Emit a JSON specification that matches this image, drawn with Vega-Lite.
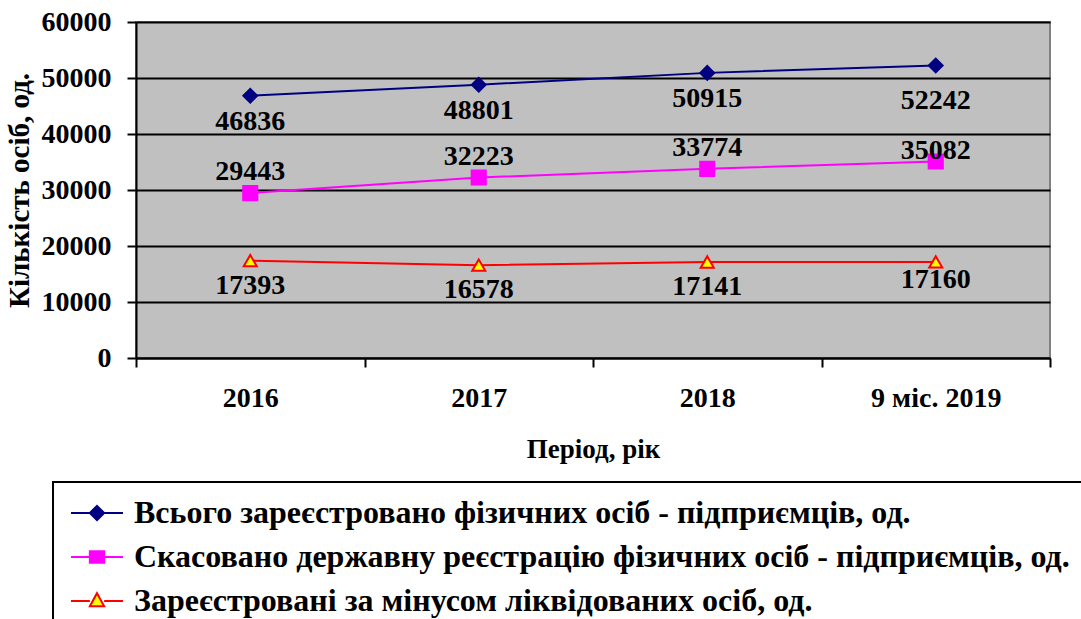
{
  "$schema": "https://vega.github.io/schema/vega-lite/v6.json",
  "width": 914,
  "height": 336,
  "autosize": {"type": "none"},
  "padding": {"left": 136, "top": 22, "right": 31, "bottom": 261},
  "background": "white",
  "config": {
    "view": {"fill": "#C0C0C0", "stroke": "#808080", "strokeWidth": 2},
    "font": "Liberation Serif"
  },
  "data": {
    "values": [
      {"period": "2016", "series": "Всього зареєстровано фізичних осіб - підприємців, од.", "value": 46836},
      {"period": "2017", "series": "Всього зареєстровано фізичних осіб - підприємців, од.", "value": 48801},
      {"period": "2018", "series": "Всього зареєстровано фізичних осіб - підприємців, од.", "value": 50915},
      {"period": "9 міс. 2019", "series": "Всього зареєстровано фізичних осіб - підприємців, од.", "value": 52242},
      {"period": "2016", "series": "Скасовано державну реєстрацію фізичних  осіб - підприємців, од.", "value": 29443},
      {"period": "2017", "series": "Скасовано державну реєстрацію фізичних  осіб - підприємців, од.", "value": 32223},
      {"period": "2018", "series": "Скасовано державну реєстрацію фізичних  осіб - підприємців, од.", "value": 33774},
      {"period": "9 міс. 2019", "series": "Скасовано державну реєстрацію фізичних  осіб - підприємців, од.", "value": 35082},
      {"period": "2016", "series": "Зареєстровані за мінусом ліквідованих осіб, од.", "value": 17393},
      {"period": "2017", "series": "Зареєстровані за мінусом ліквідованих осіб, од.", "value": 16578},
      {"period": "2018", "series": "Зареєстровані за мінусом ліквідованих осіб, од.", "value": 17141},
      {"period": "9 міс. 2019", "series": "Зареєстровані за мінусом ліквідованих осіб, од.", "value": 17160}
    ]
  },
  "encoding": {
    "x": {
      "field": "period",
      "type": "nominal",
      "sort": ["2016", "2017", "2018", "9 міс. 2019"],
      "bandPosition": 0.5,
      "scale": {"type": "band", "paddingInner": 0, "paddingOuter": 0},
      "axis": {
        "title": "Період, рік",
        "labelAngle": 0,
        "tickBand": "extent",
        "grid": false,
        "domainColor": "black",
        "domainWidth": 2,
        "tickColor": "black",
        "tickWidth": 2,
        "tickSize": 9,
        "labelFont": "Liberation Serif",
        "labelFontWeight": "bold",
        "labelFontSize": 28,
        "labelColor": "black",
        "labelPadding": 17,
        "titleFont": "Liberation Serif",
        "titleFontWeight": "bold",
        "titleFontSize": 27,
        "titleColor": "black",
        "titlePadding": 24
      }
    },
    "y": {
      "field": "value",
      "type": "quantitative",
      "scale": {"domain": [0, 60000], "nice": false},
      "axis": {
        "values": [0, 10000, 20000, 30000, 40000, 50000, 60000],
        "format": "d",
        "grid": true,
        "gridColor": "black",
        "gridWidth": 2,
        "gridOpacity": 1,
        "domainColor": "black",
        "domainWidth": 2,
        "tickColor": "black",
        "tickWidth": 2,
        "tickSize": 9,
        "labelFont": "Liberation Serif",
        "labelFontWeight": "bold",
        "labelFontSize": 28,
        "labelColor": "black",
        "labelPadding": 16,
        "title": "Кількість осіб, од.",
        "titleFont": "Liberation Serif",
        "titleFontWeight": "bold",
        "titleFontSize": 29,
        "titleColor": "black",
        "titlePadding": 7
      }
    }
  },
  "layer": [
    {
      "mark": {"type": "line", "strokeWidth": 2},
      "encoding": {
        "stroke": {
          "field": "series",
          "type": "nominal",
          "scale": {
            "domain": ["Всього зареєстровано фізичних осіб - підприємців, од.", "Скасовано державну реєстрацію фізичних  осіб - підприємців, од.", "Зареєстровані за мінусом ліквідованих осіб, од."],
            "range": ["#000080", "#FF00FF", "#FF0000"]
          },
          "legend": {
            "orient": "none",
            "legendX": -83,
            "legendY": 460,
            "title": null,
            "strokeColor": "black",
            "padding": 15,
            "rowPadding": 12,
            "labelFont": "Liberation Serif",
            "labelFontWeight": "bold",
            "labelFontSize": 32,
            "labelColor": "black",
            "labelLimit": 2000,
            "labelOffset": 34,
            "symbolSize": 676,
            "symbolStrokeWidth": 2,
            "symbolOpacity": 1,
            "symbolType": "M-1,0H3",
            "encode": {
              "legend": {"update": {"strokeWidth": {"value": 2}}},
              "symbols": {
                "update": {
                  "shape": {"signal": "datum.index === 0 ? 'M-1,0H3M1,-0.55L1.55,0L1,0.55L0.45,0Z' : datum.index === 1 ? 'M-1,0H3M0.45,-0.45H1.55V0.45H0.45Z' : 'M-1,0H0.45M1.55,0H3M1,-0.6L1.55,0.4L0.45,0.4Z'"},
                  "fill": {"signal": "datum.index === 0 ? '#000080' : datum.index === 1 ? '#FF00FF' : '#FFFF00'"},
                  "opacity": {"value": 1},
                  "fillOpacity": {"value": 1},
                  "strokeWidth": {"value": 2}
                }
              }
            }
          }
        }
      }
    },
    {
      "mark": {"type": "point", "filled": true, "opacity": 1, "strokeWidth": 2},
      "encoding": {
        "shape": {
          "condition": [
            {"test": {"field": "series", "equal": "Всього зареєстровано фізичних осіб - підприємців, од."}, "value": "diamond"},
            {"test": {"field": "series", "equal": "Скасовано державну реєстрацію фізичних  осіб - підприємців, од."}, "value": "square"}
          ],
          "value": "triangle-up"
        },
        "fill": {
          "condition": [
            {"test": {"field": "series", "equal": "Всього зареєстровано фізичних осіб - підприємців, од."}, "value": "#000080"},
            {"test": {"field": "series", "equal": "Скасовано державну реєстрацію фізичних  осіб - підприємців, од."}, "value": "#FF00FF"}
          ],
          "value": "#FFFF00"
        },
        "stroke": {
          "condition": [
            {"test": {"field": "series", "equal": "Всього зареєстровано фізичних осіб - підприємців, од."}, "value": "#000080"},
            {"test": {"field": "series", "equal": "Скасовано державну реєстрацію фізичних  осіб - підприємців, од."}, "value": "#FF00FF"}
          ],
          "value": "#FF0000"
        },
        "size": {
          "condition": [
            {"test": {"field": "series", "equal": "Всього зареєстровано фізичних осіб - підприємців, од."}, "value": 190},
            {"test": {"field": "series", "equal": "Скасовано державну реєстрацію фізичних  осіб - підприємців, од."}, "value": 200}
          ],
          "value": 170
        }
      }
    },
    {
      "transform": [{"filter": {"field": "value", "oneOf": [46836, 48801, 50915]}}],
      "mark": {"type": "text", "dy": 26, "fontSize": 28, "fontWeight": "bold", "font": "Liberation Serif", "color": "black", "baseline": "middle"},
      "encoding": {"text": {"field": "value", "type": "quantitative", "format": "d"}}
    },
    {
      "transform": [{"filter": {"field": "value", "oneOf": [52242]}}],
      "mark": {"type": "text", "dy": 36, "fontSize": 28, "fontWeight": "bold", "font": "Liberation Serif", "color": "black", "baseline": "middle"},
      "encoding": {"text": {"field": "value", "type": "quantitative", "format": "d"}}
    },
    {
      "transform": [{"filter": {"field": "value", "oneOf": [29443, 32223, 33774]}}],
      "mark": {"type": "text", "dy": -21, "fontSize": 28, "fontWeight": "bold", "font": "Liberation Serif", "color": "black", "baseline": "middle"},
      "encoding": {"text": {"field": "value", "type": "quantitative", "format": "d"}}
    },
    {
      "transform": [{"filter": {"field": "value", "oneOf": [35082]}}],
      "mark": {"type": "text", "dy": -11, "fontSize": 28, "fontWeight": "bold", "font": "Liberation Serif", "color": "black", "baseline": "middle"},
      "encoding": {"text": {"field": "value", "type": "quantitative", "format": "d"}}
    },
    {
      "transform": [{"filter": {"field": "value", "oneOf": [17393, 16578, 17141]}}],
      "mark": {"type": "text", "dy": 25, "fontSize": 28, "fontWeight": "bold", "font": "Liberation Serif", "color": "black", "baseline": "middle"},
      "encoding": {"text": {"field": "value", "type": "quantitative", "format": "d"}}
    },
    {
      "transform": [{"filter": {"field": "value", "oneOf": [17160]}}],
      "mark": {"type": "text", "dy": 18, "fontSize": 28, "fontWeight": "bold", "font": "Liberation Serif", "color": "black", "baseline": "middle"},
      "encoding": {"text": {"field": "value", "type": "quantitative", "format": "d"}}
    }
  ]
}
